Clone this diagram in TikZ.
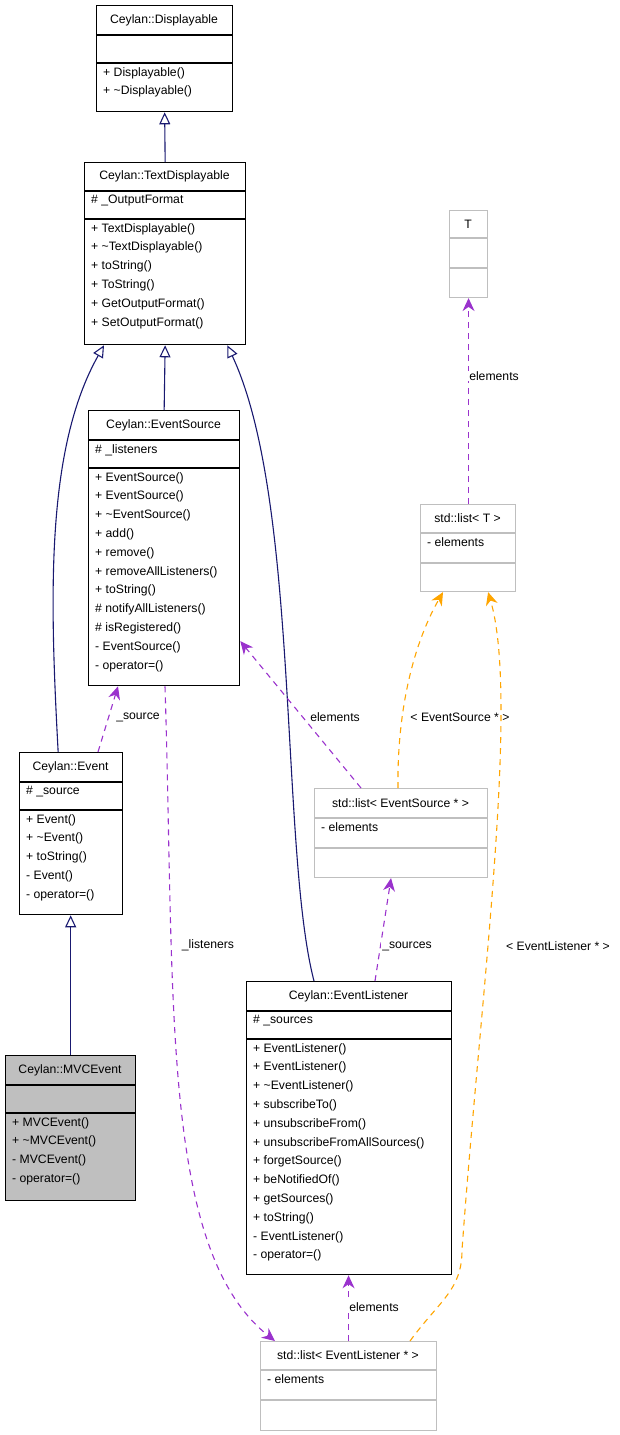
\documentclass[tikz,border=0pt]{standalone}
\usepackage{fontspec}
\setmainfont{Liberation Sans}
\usetikzlibrary{arrows.meta,positioning}
\definecolor{inherit}{HTML}{191970}
\definecolor{usage}{HTML}{9A32CD}
\definecolor{templ}{HTML}{FFA500}
\definecolor{tmplbox}{HTML}{BFBFBF}
\tikzset{%
      boxtext/.style = { font=\fontsize{12.2}{18.8}\selectfont, inner sep=0pt },
        title/.style = { boxtext, anchor=center },
      members/.style = { boxtext, anchor=north west, align=left },
     realcls/.style = { draw=black, line width=1.3pt },
     tmplcls/.style = { draw=tmplbox, line width=1.1pt },
      drawncls/.style = { realcls, fill=tmplbox },
      inherits/.style = { draw=inherit, line width=1.1pt, -{Triangle[open,length=12pt,width=11pt]} },
        uses/.style = { draw=usage, line width=1.1pt, dash pattern=on 6pt off 5pt, -{Stealth[length=13pt,width=12pt]} },
    instance/.style = { draw=templ, line width=1.1pt, dash pattern=on 6pt off 5pt, -{Stealth[length=13pt,width=12pt]} },
   edgelabel/.style = { font=\fontsize{12.2}{14}\selectfont, fill=white, inner sep=1pt }
}
% \umlclass{name}{x1}{y1}{x2}{y title}{y attr}{y2}{title}{attrs}{methods}, style cls
\newcommand\umlclass[9]{%
  \node[cls, anchor=north west, minimum width=#4pt-#2pt, minimum height=#7pt-#3pt,
        inner sep=0pt] (#1) at (#2,#3) {};
  \draw[cls, fill=none] (#2,#5) -- (#4,#5) (#2,#6) -- (#4,#6);
  \node[title] (#1-t) at ({(#2+#4)/2},{(#3+#5)/2}) {#8};
  \node[members] (#1-a) at (#2+7,#5+4) {#9};
  \def\umlx{#2}\def\umly{#6}\umlmethods
}
\newcommand\umlmethods[1]{\node[members] at (\umlx+7,\umly+4) {#1};}
\begin{document}
\begin{tikzpicture}[x=1pt,y=-1pt]
\useasboundingbox (0,0) rectangle (620,1435);
% classes
\tikzset{cls/.style=realcls}
\umlclass{disp}{96}{5}{232}{35}{63}{111}{Ceylan::Displayable}{}{+ Displayable()\\+ \textasciitilde Displayable()}
\umlclass{tdisp}{84}{162}{245}{191}{219}{344}{Ceylan::TextDisplayable}{\# \_OutputFormat}{+ TextDisplayable()\\+ \textasciitilde TextDisplayable()\\+ toString()\\+ ToString()\\+ GetOutputFormat()\\+ SetOutputFormat()}
\umlclass{evsrc}{88}{410}{239}{440}{468}{685}{Ceylan::EventSource}{\# \_listeners}{+ EventSource()\\+ EventSource()\\+ \textasciitilde EventSource()\\+ add()\\+ remove()\\+ removeAllListeners()\\+ toString()\\\# notifyAllListeners()\\\# isRegistered()\\- EventSource()\\- operator=()}
\umlclass{event}{19}{752}{122}{782}{810}{914}{Ceylan::Event}{\# \_source}{+ Event()\\+ \textasciitilde Event()\\+ toString()\\- Event()\\- operator=()}
\umlclass{evlst}{246}{981}{451}{1011}{1039}{1274}{Ceylan::EventListener}{\# \_sources}{+ EventListener()\\+ EventListener()\\+ \textasciitilde EventListener()\\+ subscribeTo()\\+ unsubscribeFrom()\\+ unsubscribeFromAllSources()\\+ forgetSource()\\+ beNotifiedOf()\\+ getSources()\\+ toString()\\- EventListener()\\- operator=()}
\tikzset{cls/.style=drawncls}
\umlclass{mvc}{5}{1055}{135}{1085}{1113}{1200}{Ceylan::MVCEvent}{}{+ MVCEvent()\\+ \textasciitilde MVCEvent()\\- MVCEvent()\\- operator=()}
\tikzset{cls/.style=tmplcls}
\umlclass{T}{449}{210}{487}{238}{268}{297}{T}{}{}
\umlclass{listT}{420}{504}{515}{533}{563}{591}{std::list< T >}{- elements}{}
\umlclass{listES}{314}{788}{487}{818}{848}{877}{std::list< EventSource * >}{- elements}{}
\umlclass{listEL}{260}{1341}{436}{1370}{1400}{1430}{std::list< EventListener * >}{- elements}{}
% inheritance
\draw[inherits] (tdisp.north) -- (disp.south);
\draw[inherits] (evsrc.north) -- (tdisp.south);
\draw[inherits] ([xshift=-13pt]event.north) .. controls (50,600) and (45,450) .. ([xshift=20pt]tdisp.south west);
\draw[inherits] ([xshift=68pt]evlst.north west) .. controls (280,850) and (300,500) .. ([xshift=-19pt]tdisp.south east);
\draw[inherits] (mvc.north) -- (mvc.north |- event.south);
% usage
\draw[uses] ([xshift=79pt]event.north west) -- ([xshift=30pt]evsrc.south west);
\node[edgelabel] (lbsrc) at (138,717) {\_source};
\draw[uses] ([xshift=77pt]evsrc.south west) .. controls (175,1000) and (160,1250) .. ([xshift=15pt]listEL.north west);
\node[edgelabel] (lblst) at (208,945) {\_listeners};
\draw[uses] ([xshift=47pt]listES.north west) -- ([yshift=-93pt]evsrc.east);
\node[edgelabel] (lbel1) at (335,717) {elements};
\draw[uses] ([xshift=61pt]listES.north west |- evlst.north) -- ([xshift=-10pt]listES.south);
\node[edgelabel] (lbsrcs) at (407,946) {\_sources};
\draw[uses] (listEL.north) -- (listEL.north |- evlst.south);
\node[edgelabel] (lbel2) at (374,1307) {elements};
\draw[uses] (listT.north -| T.south) -- (T.south);
\node[edgelabel] (lbel3) at (494,376) {elements};
% template instances
\draw[instance] ([xshift=84pt]listES.north west) .. controls (397,720) and (410,650) .. ([xshift=23pt]listT.south west);
\node[edgelabel] (lbES) at (460,717) {< EventSource * >};
\draw[instance] ([xshift=150pt]listEL.north west) .. controls (440,1300) and (462,1290) .. (462,1250)
  .. controls (480,1000) and (520,700) .. ([xshift=-28pt]listT.south east);
\node[edgelabel] (lbEL) at (558,946) {< EventListener * >};
\end{tikzpicture}
\end{document}
